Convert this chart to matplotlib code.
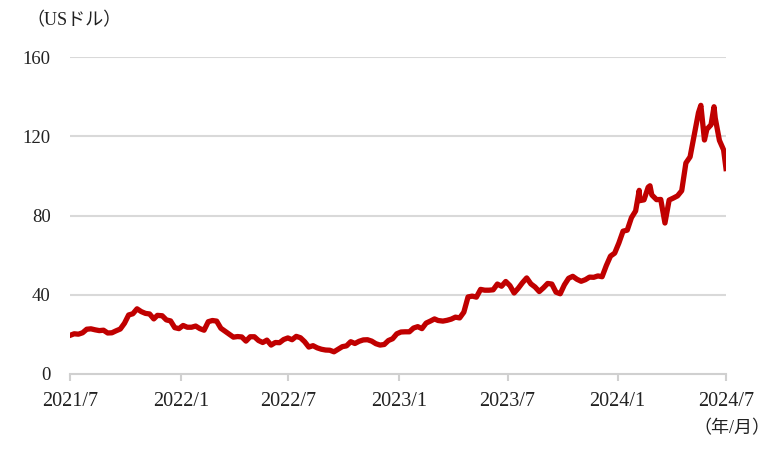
import matplotlib
matplotlib.use("Agg")
import matplotlib.pyplot as plt
import pandas as pd

plt.rcParams['font.family'] = ['Liberation Serif', 'Noto Sans CJK JP', 'DejaVu Sans']

# Weekly closing prices (US dollars)
dates = [
    "2021-07-30", "2021-08-06", "2021-08-13", "2021-08-20", "2021-08-27", "2021-09-03", "2021-09-10",
    "2021-09-17", "2021-09-24", "2021-10-01", "2021-10-08", "2021-10-15", "2021-10-22", "2021-10-29",
    "2021-11-05", "2021-11-12", "2021-11-19", "2021-11-26", "2021-12-03", "2021-12-10", "2021-12-17",
    "2021-12-23", "2021-12-31",
    "2022-01-07", "2022-01-14", "2022-01-21", "2022-01-28", "2022-02-04", "2022-02-11", "2022-02-18",
    "2022-02-25", "2022-03-04", "2022-03-11", "2022-03-18", "2022-03-25", "2022-04-01", "2022-04-08",
    "2022-04-14", "2022-04-22", "2022-04-29", "2022-05-06", "2022-05-13", "2022-05-20", "2022-05-27",
    "2022-06-03", "2022-06-10", "2022-06-17", "2022-06-24", "2022-07-01", "2022-07-08", "2022-07-15",
    "2022-07-22", "2022-07-29", "2022-08-05", "2022-08-12", "2022-08-19", "2022-08-26", "2022-09-02",
    "2022-09-09", "2022-09-16", "2022-09-23", "2022-09-30", "2022-10-07", "2022-10-14", "2022-10-21",
    "2022-10-28", "2022-11-04", "2022-11-11", "2022-11-18", "2022-11-25", "2022-12-02", "2022-12-09",
    "2022-12-16", "2022-12-23", "2022-12-30",
    "2023-01-06", "2023-01-13", "2023-01-20", "2023-01-27", "2023-02-03", "2023-02-10", "2023-02-17",
    "2023-02-24", "2023-03-03", "2023-03-10", "2023-03-17", "2023-03-24", "2023-03-31", "2023-04-06",
    "2023-04-14", "2023-04-21", "2023-04-28", "2023-05-05", "2023-05-12", "2023-05-19", "2023-05-26",
    "2023-06-02", "2023-06-09", "2023-06-16", "2023-06-23", "2023-06-30", "2023-07-07", "2023-07-14",
    "2023-07-21", "2023-07-28", "2023-08-04", "2023-08-11", "2023-08-18", "2023-08-25", "2023-09-01",
    "2023-09-08", "2023-09-15", "2023-09-22", "2023-09-29", "2023-10-06", "2023-10-13", "2023-10-20",
    "2023-10-27", "2023-11-03", "2023-11-10", "2023-11-17", "2023-11-24", "2023-12-01", "2023-12-08",
    "2023-12-15", "2023-12-22", "2023-12-29",
    "2024-01-05", "2024-01-12", "2024-01-19", "2024-01-26", "2024-02-02", "2024-02-09", "2024-02-16",
    "2024-02-23", "2024-03-01", "2024-03-07", "2024-03-08", "2024-03-15", "2024-03-22", "2024-03-25",
    "2024-03-28", "2024-04-05", "2024-04-12", "2024-04-19", "2024-04-26", "2024-05-03", "2024-05-10",
    "2024-05-17", "2024-05-24", "2024-05-31", "2024-06-07", "2024-06-14", "2024-06-18", "2024-06-21",
    "2024-06-24", "2024-06-28", "2024-07-05", "2024-07-10", "2024-07-12", "2024-07-19", "2024-07-26",
    "2024-07-30",
]
prices = [
    19.5, 20.3, 20.1, 20.8, 22.6, 22.8, 22.3,
    21.9, 22.1, 20.7, 20.8, 21.8, 22.7, 25.6,
    29.8, 30.4, 32.9, 31.5, 30.6, 30.3, 27.8,
    29.6, 29.4,
    27.3, 26.8, 23.4, 22.9, 24.5, 23.6, 23.6,
    24.2, 22.9, 22.1, 26.4, 27.0, 26.7, 23.1,
    21.8, 20.1, 18.6, 18.9, 18.7, 16.6, 18.8,
    18.8, 16.9, 15.9, 17.1, 14.6, 15.9, 15.8,
    17.4, 18.2, 17.3, 19.0, 18.3, 16.3, 13.6,
    14.3, 13.2, 12.5, 12.1, 12.0, 11.2, 12.5,
    13.8, 14.2, 16.3, 15.4, 16.5, 17.2, 17.3,
    16.6, 15.3, 14.6,
    14.9, 16.9, 17.8, 20.3, 21.2, 21.3, 21.3,
    23.2, 23.9, 22.9, 25.7, 26.7, 27.8, 27.0,
    26.7, 27.1, 27.7, 28.7, 28.3, 31.2, 38.9,
    39.3, 38.8, 42.7, 42.3, 42.3, 42.5, 45.4,
    44.3, 46.7, 44.6, 40.9, 43.3, 46.1, 48.5,
    45.5, 43.9, 41.6, 43.5, 45.7, 45.4, 41.3,
    40.5, 45.0, 48.3, 49.3, 47.8, 46.8, 47.6,
    48.9, 48.8, 49.5,
    49.1, 54.7, 59.5, 61.0, 66.1, 72.1, 72.6,
    78.9, 82.3, 92.7, 87.5, 87.9, 94.3, 95.0,
    90.4, 88.0, 88.1, 76.2, 87.8, 88.8, 89.9,
    92.5, 106.5, 109.6, 120.9, 131.9, 135.6, 126.6,
    118.1, 123.5, 125.8, 134.9, 129.2, 117.9, 113.1,
    103.7,
]

tick_dates = ["2021-07-30", "2022-01-31", "2022-07-29", "2023-01-31",
              "2023-07-31", "2024-01-31", "2024-07-30"]
tick_labels = ["2021/7", "2022/1", "2022/7", "2023/1", "2023/7", "2024/1", "2024/7"]
y_ticks = [0, 40, 80, 120, 160]

x = pd.to_datetime(dates)
xt = pd.to_datetime(tick_dates)

fig = plt.figure(figsize=(7.8, 4.51), dpi=100)
ax = fig.add_axes([70 / 780, (451 - 374) / 451, (726 - 70) / 780, (374 - 57) / 451])

ax.plot(x, prices, color="#C00000", lw=3.8, solid_joinstyle="round", zorder=3)

ax.set_ylim(0, 160)
ax.set_xlim(xt[0], xt[-1])
ax.set_yticks(y_ticks)
ax.set_yticklabels([str(v) for v in y_ticks])
ax.set_xticks(xt)
ax.set_xticklabels(tick_labels)

for v in y_ticks[1:]:
    ax.axhline(v, color="#d9d9d9", lw=1.5, zorder=1)

for s in ["top", "right", "left"]:
    ax.spines[s].set_visible(False)
ax.spines["bottom"].set_color("#d0d0d0")
ax.spines["bottom"].set_linewidth(1.5)

ax.tick_params(axis="y", length=0, pad=14, labelsize=13.5, colors="#222222")
ax.tick_params(axis="x", length=5, width=1.5, color="#d0d0d0", pad=8, labelsize=14.5,
               labelcolor="#222222")

fig.text(26 / 780, 1 - 21 / 451, "（USドル）", fontsize=13, va="center", ha="left",
         color="#222222")
fig.text(770 / 780, 1 - 429 / 451, "（年/月）", fontsize=13, va="center", ha="right",
         color="#222222")

fig.savefig("out.png", dpi=100)
